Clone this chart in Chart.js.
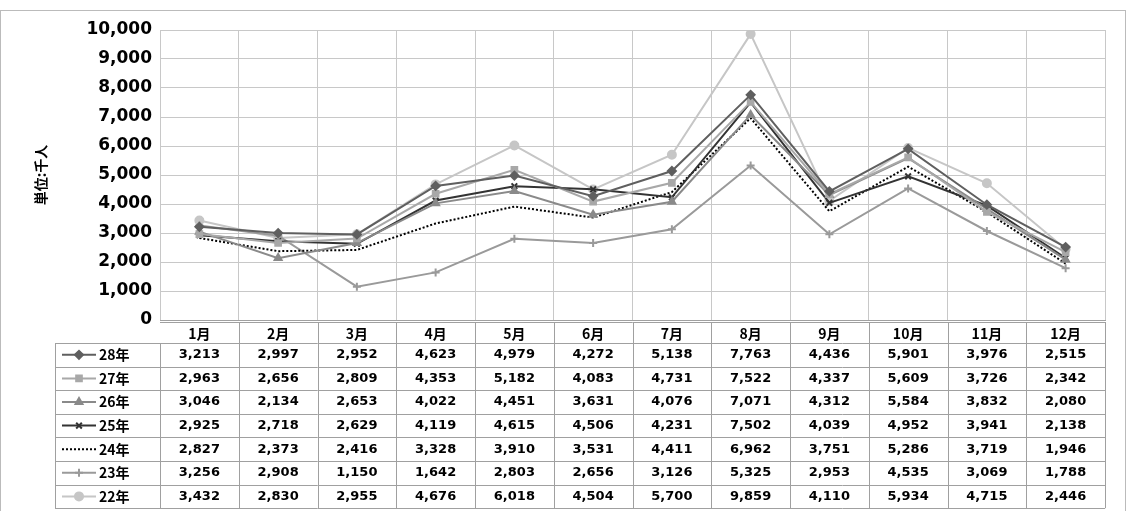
<!DOCTYPE html>
<html><head><meta charset="utf-8">
<script src="https://cdn.jsdelivr.net/npm/chart.js@4"></script>
<style>html,body{margin:0;padding:0;background:#fff}#w{width:1130px;height:511px}</style>
</head><body><div id="w"><canvas id="c"></canvas></div>
<script>
const months=['1月','2月','3月','4月','5月','6月','7月','8月','9月','10月','11月','12月'];
const seriesNames=['28年','27年','26年','25年','24年','23年','22年'];
const s28=[3213,2997,2952,4623,4979,4272,5138,7763,4436,5901,3976,2515];
const s27=[2963,2656,2809,4353,5182,4083,4731,7522,4337,5609,3726,2342];
const s26=[3046,2134,2653,4022,4451,3631,4076,7071,4312,5584,3832,2080];
const s25=[2925,2718,2629,4119,4615,4506,4231,7502,4039,4952,3941,2138];
const s24=[2827,2373,2416,3328,3910,3531,4411,6962,3751,5286,3719,1946];
const s23=[3256,2908,1150,1642,2803,2656,3126,5325,2953,4535,3069,1788];
const s22=[3432,2830,2955,4676,6018,4504,5700,9859,4110,5934,4715,2446];
const values=[s28,s27,s26,s25,s24,s23,s22];
const colors=['#5f5f5f','#a8a8a8','#8a8a8a','#333333','#000000','#9a9a9a','#c6c6c6'];
const styles=['rectRot','rect','triangle','crossRot',false,'cross','circle'];
const datasets=values.map((v,i)=>({label:seriesNames[i],data:v,borderColor:colors[i],backgroundColor:colors[i],
 borderWidth:2,borderDash:i===4?[2,2]:[],pointStyle:styles[i]||'circle',pointRadius:styles[i]?4:0,pointBorderWidth:2,tension:0}));
const fmt=n=>n.toLocaleString('en-US');
const tablePlugin={id:'tbl',afterDraw(ch){
 const c=ch.ctx,x=ch.scales.x,a=ch.chartArea;
 const left=55,top=a.bottom+2,hh=21,rh=23.6;
 const bounds=[left];for(let i=0;i<=12;i++)bounds.push(x.getPixelForValue(i)-(x.getPixelForValue(1)-x.getPixelForValue(0))/2);
 const bottom=top+hh+rh*7;
 c.save();c.strokeStyle='#a0a0a0';c.lineWidth=1;
 c.beginPath();c.moveTo(a.left,top+.5);c.lineTo(a.right,top+.5);
 for(let r=0;r<=7;r++){const y=Math.round(top+hh+r*rh)+.5;c.moveTo(left,y);c.lineTo(a.right,y);}
 c.moveTo(left+.5,top+hh);c.lineTo(left+.5,bottom);
 for(let i=1;i<bounds.length;i++){const xx=Math.round(bounds[i])+.5;c.moveTo(xx,i===1?top+hh:top);c.lineTo(xx,bottom);}
 c.stroke();
 c.fillStyle='#000';c.font='bold 14px "Noto Sans CJK JP"';c.textAlign='center';c.textBaseline='middle';
 for(let i=0;i<12;i++)c.fillText(months[i],x.getPixelForValue(i),top+hh/2+1);
 c.font='bold 13px "DejaVu Sans"';
 for(let r=0;r<7;r++){const y=top+hh+r*rh+rh/2;
  for(let i=0;i<12;i++)c.fillText(fmt(values[r][i]),x.getPixelForValue(i),y);
  c.strokeStyle=colors[r];c.fillStyle=colors[r];c.lineWidth=2;c.setLineDash(r===4?[2,2]:[]);
  c.beginPath();c.moveTo(62,y);c.lineTo(96,y);c.stroke();c.setLineDash([]);
  if(styles[r])Chart.helpers.drawPoint(c,{pointStyle:styles[r],radius:4,borderWidth:2},79,y);
  c.fillStyle='#000';c.textAlign='left';c.font='bold 14px "Noto Sans CJK JP"';c.fillText(seriesNames[r],99,y);
  c.textAlign='center';c.font='bold 13px "DejaVu Sans"';}
 c.strokeStyle='#bbb';c.lineWidth=1;c.strokeRect(0.5,10.5,1125,510);
 c.restore();}};
new Chart(document.getElementById('c'),{type:'line',data:{labels:months,datasets},plugins:[tablePlugin],
options:{responsive:true,maintainAspectRatio:false,animation:false,
 layout:{padding:{left:32,right:25,top:30,bottom:191}},
 plugins:{legend:{display:false},tooltip:{enabled:false}},
 scales:{x:{offset:true,grid:{offset:true,color:'#c8c8c8',drawTicks:false},border:{color:'#a0a0a0'},ticks:{display:false},afterFit:s=>{s.height=0}},
  y:{min:0,max:10000,ticks:{stepSize:1000,color:'#000',font:{size:17,weight:'bold',family:'DejaVu Sans'},callback:v=>fmt(v),padding:8},
   grid:{color:'#c8c8c8',drawTicks:false},border:{display:false},
   title:{display:true,text:'単位:千人',color:'#000',font:{size:14,weight:'bold',family:'Noto Sans CJK JP'},padding:0},
   afterFit:s=>{s.width=128}}}}});
</script></body></html>
